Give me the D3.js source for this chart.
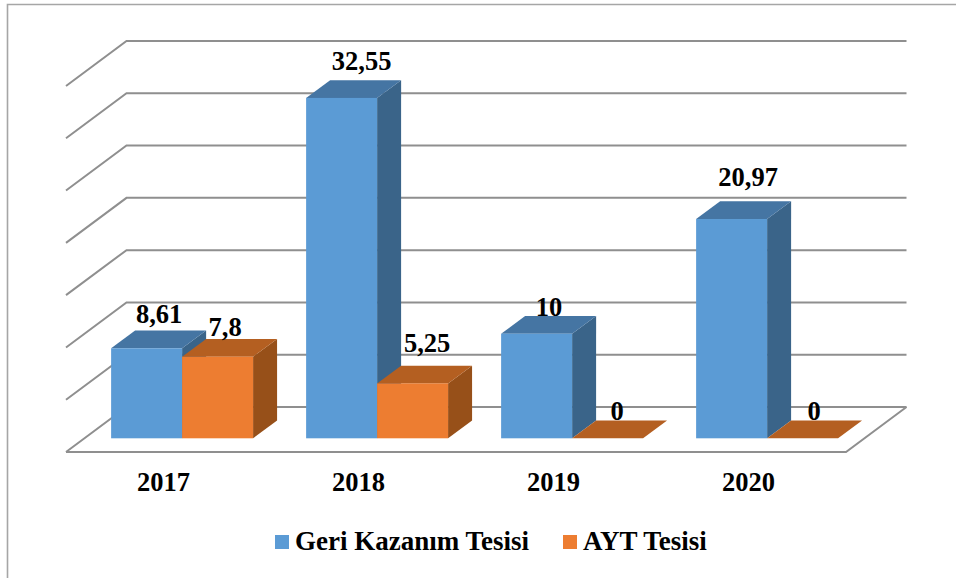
<!DOCTYPE html>
<html>
<head>
<meta charset="utf-8">
<script src="https://cdn.jsdelivr.net/npm/d3@7"></script>
<style>
html,body{margin:0;padding:0;background:#fff;}
svg{display:block;}
text{font-family:"Liberation Serif","Times New Roman",serif;font-weight:bold;fill:#000;}
</style>
</head>
<body>
<svg id="chart" width="956" height="578"></svg>
<script>
const categories = ["2017", "2018", "2019", "2020"];
const seriesNames = ["Geri Kazanım Tesisi", "AYT Tesisi"];
const geriKazanim = [8.61, 32.55, 10, 20.97];
const aytTesisi = [7.8, 5.25, 0, 0];
const valueLabels = [["8,61", "32,55", "10", "20,97"], ["7,8", "5,25", "0", "0"]];
const seriesValues = [geriKazanim, aytTesisi];

// Layout and styling
const W = 956, H = 578;
const floorFrontY = 452, floorBackY = 407, wallTopY = 41;
const floorLeft = 66, floorRight = 846, wallDx = 60.5;
const barBaseY = 438.3, barBaseShift = 18.6;
const depthX = 24, depthY = 17.7;
const labelFont = 26.5, legendFont = 27;
const palette = [
  {front:"#5b9bd5", top:"#4575a3", side:"#3a6489"},
  {front:"#ed7d31", top:"#b45f21", side:"#975019"}
];
// Hand-placed data labels in the original: offset from top-centre of each bar's front face
const labelNudge = [
  [[12.5,-25],[20,-28],[12.5,-18],[16.5,-33]],
  [[7.5,-21],[14.5,-31],[9.5,-18],[11.5,-18]]
];

const svg = d3.select("#chart");
svg.append("rect").attr("width",W).attr("height",H).attr("fill","#fff");

// Outer frame (runs off the right and bottom of the picture)
svg.append("path")
  .attr("d", d3.line()([[W+5,4.5],[7.5,4.5],[7.5,H+5]]))
  .attr("fill","none").attr("stroke","#a6a6a6").attr("stroke-width",1.6);

// Scales
const maxV = 35, stepV = 5;
const yWall = d3.scaleLinear().domain([0,maxV]).range([floorBackY,wallTopY]);
const yBar = d3.scaleLinear().domain([0,maxV]).range([barBaseY,barBaseY-(floorBackY-wallTopY)]);
const xAxisBand = d3.scaleBand().domain(categories).range([floorLeft,floorRight]);
const xBand = d3.scaleBand().domain(categories)
  .range([floorLeft+barBaseShift,floorRight+barBaseShift]).paddingInner(0.272).paddingOuter(0.136);
const xSeries = d3.scaleBand().domain(d3.range(seriesNames.length)).range([0,xBand.bandwidth()]);

// Gridlines: side wall + back wall
const grid = svg.append("g").attr("fill","none").attr("stroke","#8f8f8f").attr("stroke-width",2)
  .attr("stroke-linejoin","miter");
const gridValues = d3.range(0,maxV+stepV,stepV);
const dropY = floorFrontY-floorBackY;
grid.selectAll("path.g").data(gridValues).join("path").attr("class","g")
  .attr("d", v => d3.line()([
    [floorLeft, yWall(v)+dropY],
    [floorLeft+wallDx, yWall(v)],
    [floorRight+wallDx, yWall(v)]
  ]));
// Floor front edge and right edge
grid.append("path").attr("d", d3.line()([
  [floorLeft,floorFrontY],[floorRight,floorFrontY],[floorRight+wallDx,floorBackY]
]));

// 3D bars
const bars = svg.append("g");
categories.forEach((c,ci) => {
  seriesValues.forEach((vals,si) => {
    const v = vals[ci];
    const x0 = xBand(c)+xSeries(si), x1 = x0+xSeries.bandwidth();
    const yT = yBar(v), yB = yBar(0);
    const g = bars.append("g").attr("stroke","none");
    const col = palette[si];
    if (v > 0) {
      g.append("path").attr("fill",col.side).attr("d", d3.line()([
        [x1,yT],[x1+depthX,yT-depthY],[x1+depthX,yB-depthY],[x1,yB]
      ])+"Z");
    }
    g.append("path").attr("fill",col.top).attr("d", d3.line()([
      [x0,yT],[x0+depthX,yT-depthY],[x1+depthX,yT-depthY],[x1,yT]
    ])+"Z");
    if (v > 0) {
      g.append("rect").attr("x",x0).attr("y",yT).attr("width",x1-x0).attr("height",yB-yT).attr("fill",col.front);
    }
  });
});

// Value labels
const labels = svg.append("g").attr("text-anchor","middle").attr("font-size",labelFont);
categories.forEach((c,ci) => {
  seriesValues.forEach((vals,si) => {
    const cx = xBand(c)+xSeries(si)+xSeries.bandwidth()/2;
    labels.append("text")
      .attr("x",cx+labelNudge[si][ci][0])
      .attr("y",yBar(vals[ci])+labelNudge[si][ci][1])
      .text(valueLabels[si][ci]);
  });
});

// Category axis
const axis = svg.append("g").attr("transform",`translate(0,${floorFrontY})`)
  .call(d3.axisBottom(xAxisBand).tickSize(0).tickPadding(20));
axis.select(".domain").remove();
axis.selectAll("text").attr("font-size",labelFont).attr("dy",0).attr("y",38.5)
  .style("font-family",'"Liberation Serif"').style("font-weight","bold").attr("fill","#000");

// Legend
const legendX = [275, 563];
const legend = svg.append("g").selectAll("g").data(seriesNames).join("g")
  .attr("transform",(d,i)=>`translate(${legendX[i]},535)`);
legend.append("rect").attr("width",14).attr("height",14).attr("fill",(d,i)=>palette[i].front);
legend.append("text").attr("x",20).attr("y",15).attr("font-size",legendFont).text(d=>d);
</script>
</body>
</html>
